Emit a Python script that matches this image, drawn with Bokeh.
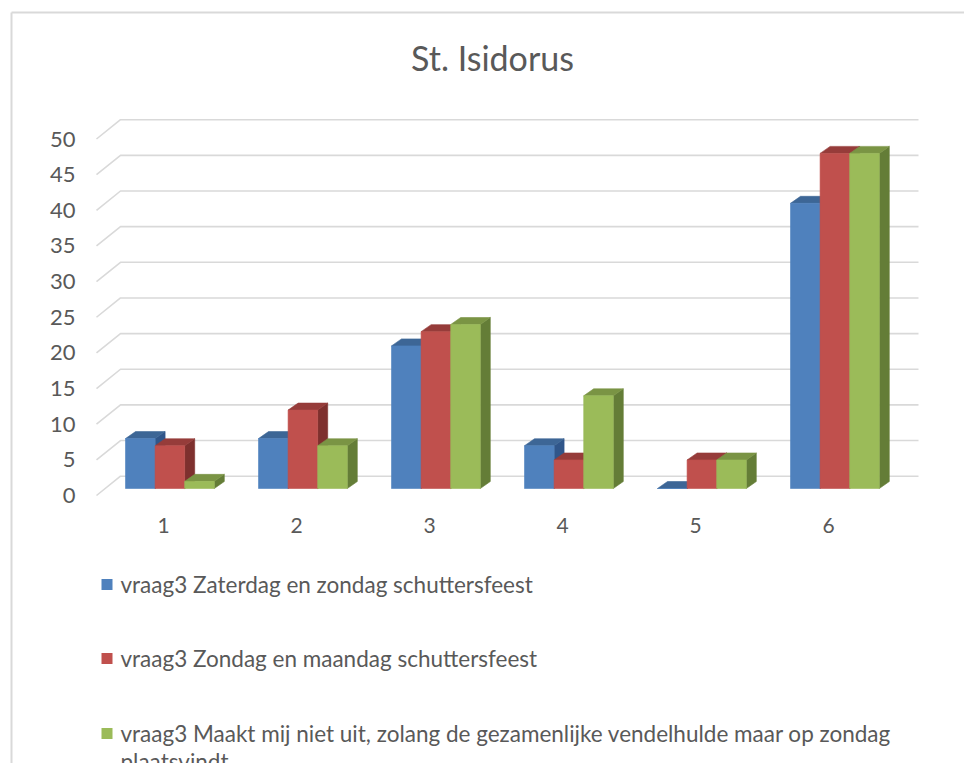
from bokeh.plotting import figure
from bokeh.models import Range1d, ColumnDataSource
from bokeh.core.properties import value
from bokeh.embed import file_html
from bokeh.resources import INLINE

# ---------------- data ----------------
title_text = "St. Isidorus"
categories = ["1", "2", "3", "4", "5", "6"]
series_names = [
    "vraag3 Zaterdag en zondag schuttersfeest",
    "vraag3 Zondag en maandag schuttersfeest",
    "vraag3 Maakt mij niet uit, zolang de gezamenlijke vendelhulde maar op zondag plaatsvindt",
]
zaterdag_zondag = [7, 7, 20, 6, 0, 40]
zondag_maandag = [6, 11, 22, 4, 4, 47]
maakt_niet_uit = [1, 6, 23, 13, 4, 47]
y_ticks = [0, 5, 10, 15, 20, 25, 30, 35, 40, 45, 50]

series_values = [zaterdag_zondag, zondag_maandag, maakt_niet_uit]
front_colors = ["#4F81BD", "#C0504D", "#9BBB59"]
top_colors = ["#3D6696", "#963C3A", "#7A9444"]
side_colors = ["#30568A", "#7E302E", "#647D37"]

# ---------------- layout constants ----------------
W, H = 964, 763
PX_X, PX_Y = 133.0, 7.13
X0 = 1 - 169.4 / PX_X          # data x at left edge of canvas
Y_TOP = 488 / PX_Y             # data y at top edge of canvas
x_range = Range1d(X0, X0 + W / PX_X)
y_range = Range1d(Y_TOP - H / PX_Y, Y_TOP)

BAR_W = 29.6 / PX_X
DX, DY = 10 / PX_X, 7 / PX_Y           # bar extrusion
FRONT_DX, FRONT_DY = -6.9 / PX_X, -7.0 / PX_Y
BACK_DX, BACK_DY = 17.1 / PX_X, 12.3 / PX_Y

TEXT = "#595959"
GRID = "#D9D9D9"
FONT = value("Lato")

p = figure(width=W, height=H, x_range=x_range, y_range=y_range,
           output_backend="svg", toolbar_location=None, min_border=0)
p.axis.visible = False
p.grid.visible = False
p.outline_line_color = None
p.background_fill_color = "white"
p.border_fill_color = "white"

# chart border (left and top visible)
bx = X0 + 11 / PX_X
by = Y_TOP - 12 / PX_Y
p.segment(x0=[bx, bx], y0=[by, by], x1=[bx, x_range.end + 1], y1=[y_range.start - 5, by],
          line_color=GRID, line_width=2)

# back wall gridlines with left diagonals
ncat = len(categories)
gx, gy = [], []
for v in y_ticks:
    gx.append([0.5 + FRONT_DX, 0.5 + BACK_DX, ncat + 0.5 + BACK_DX])
    gy.append([v + FRONT_DY, v + BACK_DY, v + BACK_DY])
p.multi_line(xs=gx, ys=gy, line_color=GRID, line_width=1.6)

# 3D bars
xs, ys, cols = [], [], []
for ci in range(ncat):
    c = ci + 1
    for si, vals in enumerate(series_values):
        v = vals[ci]
        xc = c + (si - 1) * BAR_W
        l, r = xc - BAR_W / 2, xc + BAR_W / 2
        # side
        xs.append([r, r, r + DX, r + DX]); ys.append([0, v, v + DY, DY]); cols.append(side_colors[si])
        # top
        xs.append([l, r, r + DX, l + DX]); ys.append([v, v, v + DY, v + DY]); cols.append(top_colors[si])
        # front
        xs.append([l, r, r, l]); ys.append([0, 0, v, v]); cols.append(front_colors[si])
src = ColumnDataSource(dict(xs=xs, ys=ys, c=cols))
p.patches("xs", "ys", source=src, fill_color="c", line_color="c", line_width=0.6)

# y tick labels
p.text(x=[0.5 + FRONT_DX - 21 / PX_X] * len(y_ticks), y=[v + FRONT_DY for v in y_ticks],
       text=[str(v) for v in y_ticks], text_align="right", text_baseline="middle",
       text_font=FONT, text_font_size="22px", text_color=TEXT)

# category labels
p.text(x=[i + 1 - 6.4 / PX_X for i in range(ncat)], y=[-37 / PX_Y] * ncat, text=categories,
       text_align="center", text_baseline="middle",
       text_font=FONT, text_font_size="21px", text_color=TEXT)

# title
p.text(x=[X0 + 492 / PX_X], y=[Y_TOP - 57 / PX_Y], text=[title_text],
       text_align="center", text_baseline="middle",
       text_font=FONT, text_font_size="34px", text_color=TEXT)

# legend (vertical, below plot)
leg_rows = [-96, -170, -245]
sw = 11
for si, name in enumerate(series_names):
    yc = leg_rows[si] / PX_Y
    p.quad(left=[X0 + 101 / PX_X], right=[X0 + (101 + sw) / PX_X],
           bottom=[yc - sw / 2 / PX_Y], top=[yc + sw / 2 / PX_Y],
           fill_color=front_colors[si], line_color=None)
    words = name.split(" ")
    lines = [name] if len(name) < 70 else [" ".join(words[:-1]), words[-1]]
    p.text(x=[X0 + 120 / PX_X] * len(lines),
           y=[yc - k * 28 / PX_Y for k in range(len(lines))], text=lines,
           text_align="left", text_baseline="middle",
           text_font=FONT, text_font_size="22.5px", text_color=TEXT)

open("out.html", "w").write(file_html(p, INLINE))
